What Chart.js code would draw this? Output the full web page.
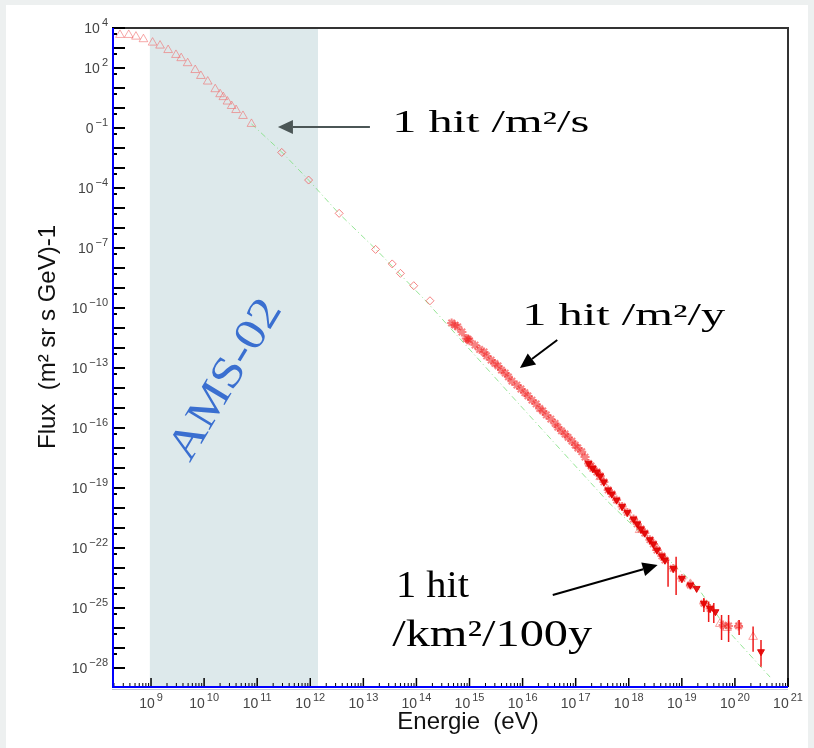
<!DOCTYPE html>
<html>
<head>
<meta charset="utf-8">
<script src="https://cdn.jsdelivr.net/npm/chart.js@4.4.1/dist/chart.umd.min.js"></script>
<style>
  html, body { margin: 0; padding: 0; background: #edf0f0; }
  canvas { display: block; }
</style>
</head>
<body>
<canvas id="myChart" width="814" height="748"></canvas>
<script>
(function () {
  "use strict";

  // values: energy in eV, flux in (m2 sr s GeV)^-1
  var lowE = [2.6e8, 3.8e8, 5.2e8, 7.2e8, 1.07e9, 1.48e9, 2.1e9, 2.95e9, 3.7e9, 4.9e9, 6.8e9,
    8.7e9, 1.17e10, 1.62e10, 2.0e10, 2.3e10, 2.75e10, 3.3e10, 4.0e10, 5.4e10, 7.8e10];
  var lowFlux = [4.5e3, 4.5e3, 3.7e3, 2.75e3, 1.86e3, 1.32e3, 7.9e2, 4.5e2, 3.1e2, 1.74e2, 79,
    40, 21, 8.7, 4.9, 3.5, 2.1, 1.26, 0.79, 0.4, 0.16];

  var diamondE = [2.9e11, 9.3e11, 3.5e12, 1.7e13, 3.5e13, 5.0e13, 8.9e13, 1.8e14];
  var diamondFlux = [6.0e-3, 2.5e-4, 5.4e-6, 8.5e-8, 1.6e-8, 5.4e-9, 1.3e-9, 2.3e-10];

  var starE = [4.6e14, 5.3e14, 6.0e14, 7.2e14, 8.7e14, 9.4e14, 1.0e15, 1.27e15, 1.55e15, 1.88e15,
    2.1e15, 2.55e15, 3.0e15, 3.45e15, 4.0e15, 4.7e15, 5.4e15, 6.3e15, 7.8e15, 9.3e15,
    1.1e16, 1.26e16, 1.5e16, 1.8e16, 2.1e16, 2.4e16, 2.8e16, 3.4e16, 4.1e16, 4.6e16,
    5.4e16, 6.3e16, 7.2e16, 8.5e16, 9.8e16, 1.1e17, 1.3e17, 1.5e17, 1.75e17, 1.95e17,
    2.1e17, 2.5e17, 2.9e17, 3.4e17, 4.1e17, 4.8e17, 5.9e17, 7.5e17, 9.4e17, 1.23e18,
    1.45e18, 1.7e18, 2.0e18, 2.5e18, 2.9e18, 3.4e18, 4.2e18, 4.8e18, 6.9e18, 1.0e19,
    1.45e19, 2.6e19, 3.4e19, 6.0e19, 7.6e19, 1.17e20];
  var starFlux = [1.8e-11, 1.4e-11, 1.15e-11, 6.3e-12, 3.0e-12, 2.8e-12, 2.3e-12, 1.4e-12, 8.5e-13, 6.3e-13,
    4.0e-13, 2.5e-13, 1.7e-13, 1.26e-13, 7.9e-14, 5.6e-14, 3.6e-14, 2.2e-14, 1.4e-14, 8.9e-15,
    5.8e-15, 4.0e-15, 2.5e-15, 1.6e-15, 9.5e-16, 7.1e-16, 4.5e-16, 2.8e-16, 1.7e-16, 1.1e-16,
    7.2e-17, 5.0e-17, 3.4e-17, 2.2e-17, 1.4e-17, 1.0e-17, 6.5e-18, 3.5e-18, 1.7e-18, 1.26e-18,
    9.5e-19, 6.3e-19, 4.0e-19, 2.0e-19, 8.0e-20, 5.0e-20, 2.5e-20, 1.2e-20, 6.0e-21, 2.8e-21,
    1.6e-21, 9.0e-22, 5.6e-22, 2.6e-22, 1.6e-22, 7.9e-23, 4.0e-23, 2.5e-23, 9.5e-24, 3.0e-24,
    1.4e-24, 1.7e-25, 9.5e-26, 1.4e-26, 1.26e-26, 1.26e-26];

  var downE = [1.75e17, 2.1e17, 2.5e17, 2.9e17, 3.4e17, 4.1e17, 4.8e17, 5.9e17, 7.5e17, 9.4e17,
    1.23e18, 1.45e18, 1.7e18, 2.0e18, 2.5e18, 2.9e18, 3.4e18, 4.2e18, 4.8e18, 6.9e18,
    1.0e19, 1.45e19, 1.9e19, 2.6e19, 3.4e19, 4.3e19, 3.1e20];
  var downFlux = [1.7e-18, 9.5e-19, 6.3e-19, 4.0e-19, 2.0e-19, 8.0e-20, 5.0e-20, 2.5e-20, 1.2e-20, 6.0e-21,
    2.8e-21, 1.6e-21, 9.0e-22, 5.6e-22, 2.6e-22, 1.6e-22, 7.9e-23, 4.0e-23, 2.5e-23, 9.5e-24,
    3.0e-24, 1.4e-24, 9.5e-25, 1.7e-25, 9.5e-26, 6.5e-26, 6.5e-28];

  var upE = [2.9e17, 1.6e18, 3.4e18, 1.45e19, 5.2e19, 7.1e19, 1.17e20, 2.2e20];
  var upFlux = [3.5e-19, 7.9e-22, 1.0e-22, 1.6e-24, 1.6e-26, 1.0e-26, 1.4e-26, 3.6e-27];

  var errE = [5.5e18, 7.8e18, 2.6e19, 3.2e19, 4.0e19, 5.6e19, 7.6e19, 1.2e20, 2.2e20, 3.1e20];
  var errHigh = [2.5e-23, 3.6e-23, 3.2e-25, 2.1e-25, 1.8e-25, 4.5e-26, 4.5e-26, 2.5e-26, 1.2e-26, 2.5e-27];
  var errLow = [1.15e-24, 4.5e-25, 6.3e-26, 2.0e-26, 1.8e-26, 2.5e-27, 2.0e-27, 4.5e-27, 6.5e-28, 1.15e-28];

  var fitE = [7.8e10, 2.9e11, 9.3e11, 3.4e12, 1.7e13, 1.45e14, 8.9e15, 4.1e17, 1.95e19, 8.1e19, 4.6e20];
  var fitFlux = [0.16, 6.3e-3, 2.5e-4, 5.6e-6, 8.9e-8, 2.5e-10, 1.4e-15, 2.0e-20, 1.1e-24, 5.6e-27, 3.5e-29];

  var amsBand = [9.5e8, 1.4e12];

  // tick labels
  var xTickExp = ["9", "10", "11", "12", "13", "14", "15", "16", "17", "18", "19", "20", "21"];
  var yTickExp = ["4", "2", "−1", "−4", "−7", "−10", "−13", "−16", "−19", "−22", "−25", "−28"];
  var yTickBase = ["10", "10", "0", "10", "10", "10", "10", "10", "10", "10", "10", "10"];

  // notes: text, anchor energy, anchor flux
  var noteText = ["1 hit /m²/s", "1 hit /m²/y", "1 hit", "/km²/100y"];
  var noteE = [3.5e13, 9.8e15, 4.1e13, 3.5e13];
  var noteFlux = [6.3e-2, 1.4e-11, 3.7e-25, 1.26e-27];
  var noteWidth = [197, 203, 73, 200];

  // arrows: tail -> tip
  var arrowFrom = [[1.33e13, 0.112], [4.5e16, 2.5e-12], [3.7e16, 4.5e-25]];
  var arrowTo = [[2.46e11, 0.112], [8.9e15, 1.0e-13], [3.5e18, 1.4e-23]];
  var arrowColor = ["#4b5656", "#000", "#000"];

  function pts(xs, ys) {
    return xs.map(function (x, i) { return { x: x, y: ys[i] }; });
  }

  var errPts = [];
  for (var i = 0; i < errE.length; i++) {
    errPts.push({ x: errE[i], y: errLow[i] }, { x: errE[i], y: errHigh[i] }, { x: errE[i], y: null });
  }

  function fitText(ctx, text, x, y, width) {
    var w = ctx.measureText(text).width;
    ctx.save();
    ctx.translate(x, y);
    ctx.scale(width / w, 1);
    ctx.fillText(text, 0, 0);
    ctx.restore();
  }

  function arrow(ctx, x0, y0, x1, y1, color) {
    var ang = Math.atan2(y1 - y0, x1 - x0);
    var head = 15, half = 7;
    var bx = x1 - head * Math.cos(ang), by = y1 - head * Math.sin(ang);
    ctx.strokeStyle = color;
    ctx.fillStyle = color;
    ctx.lineWidth = 2;
    ctx.beginPath();
    ctx.moveTo(x0, y0);
    ctx.lineTo(bx, by);
    ctx.stroke();
    ctx.beginPath();
    ctx.moveTo(x1, y1);
    ctx.lineTo(bx + half * Math.sin(ang), by - half * Math.cos(ang));
    ctx.lineTo(bx - half * Math.sin(ang), by + half * Math.cos(ang));
    ctx.closePath();
    ctx.fill();
  }

  function powLabel(ctx, base, exp, x, y, centered) {
    ctx.font = "14px 'Liberation Sans', Arial, sans-serif";
    var wb = ctx.measureText(base).width;
    ctx.font = "11px 'Liberation Sans', Arial, sans-serif";
    var we = ctx.measureText(exp).width;
    var left = centered ? x - (wb + we + 2) / 2 : x - wb - we - 2;
    ctx.font = "14px 'Liberation Sans', Arial, sans-serif";
    ctx.fillText(base, left, y);
    ctx.font = "11px 'Liberation Sans', Arial, sans-serif";
    ctx.fillText(exp, left + wb + 2, y - 7);
  }

  var decor = {
    id: "decor",
    beforeDraw: function (chart) {
      var ctx = chart.ctx, a = chart.chartArea, xs = chart.scales.x;
      ctx.save();
      ctx.fillStyle = "#edf0f0";
      ctx.fillRect(0, 0, chart.width, chart.height);
      ctx.fillStyle = "#ffffff";
      ctx.fillRect(6, 5, 802, chart.height - 5);
      var x0 = xs.getPixelForValue(amsBand[0]);
      var x1 = xs.getPixelForValue(amsBand[1]);
      ctx.fillStyle = "#dde9eb";
      ctx.fillRect(x0, a.top, x1 - x0, a.bottom - a.top);
      // AMS-02 label
      ctx.translate(xs.getPixelForValue(2.6e10), chart.scales.y.getPixelForValue(2.5e-14));
      ctx.rotate(-59 * Math.PI / 180);
      ctx.font = "44px 'Liberation Serif', 'Times New Roman', serif";
      ctx.fillStyle = "#3a6fd0";
      ctx.textAlign = "left";
      ctx.textBaseline = "middle";
      fitText(ctx, "AMS-02", -90, 0, 180);
      ctx.restore();
    },
    afterDatasetsDraw: function (chart) {
      var ctx = chart.ctx, a = chart.chartArea, xs = chart.scales.x, ys = chart.scales.y;
      var e, m, p;
      ctx.save();
      // frame
      ctx.strokeStyle = "#333";
      ctx.lineWidth = 2;
      ctx.beginPath();
      ctx.moveTo(a.left, a.top);
      ctx.lineTo(a.right, a.top);
      ctx.lineTo(a.right, a.bottom);
      ctx.stroke();
      ctx.strokeStyle = "#c4c4d8";
      ctx.lineWidth = 1;
      ctx.beginPath();
      ctx.moveTo(a.left, a.bottom + 2.5);
      ctx.lineTo(a.right, a.bottom + 2.5);
      ctx.stroke();
      // ticks
      ctx.strokeStyle = "#000";
      for (e = -28; e <= 4; e++) {
        p = ys.getPixelForValue(Math.pow(10, e));
        ctx.lineWidth = 2;
        ctx.beginPath(); ctx.moveTo(a.left, p); ctx.lineTo(a.left + 13, p); ctx.stroke();
        if (e < 4) {
          p = ys.getPixelForValue(5 * Math.pow(10, e));
          ctx.beginPath(); ctx.moveTo(a.left, p); ctx.lineTo(a.left + 5, p); ctx.stroke();
        }
      }
      for (e = 8; e <= 21; e++) {
        for (m = 1; m <= 9; m++) {
          var v = m * Math.pow(10, e);
          if (v < xs.min || v > xs.max) continue;
          p = xs.getPixelForValue(v);
          ctx.lineWidth = m === 1 ? 1.5 : 1;
          ctx.beginPath(); ctx.moveTo(p, a.bottom); ctx.lineTo(p, a.bottom - (m === 1 ? 9 : 4)); ctx.stroke();
        }
      }
      // axis lines
      ctx.strokeStyle = "#0000ff";
      ctx.lineWidth = 2;
      ctx.beginPath();
      ctx.moveTo(a.left + 1, a.top);
      ctx.lineTo(a.left + 1, a.bottom);
      ctx.lineTo(a.right, a.bottom);
      ctx.stroke();
      // tick labels
      ctx.fillStyle = "#444";
      ctx.textAlign = "left";
      ctx.textBaseline = "alphabetic";
      xTickExp.forEach(function (ex) {
        powLabel(ctx, "10", ex, xs.getPixelForValue(Math.pow(10, Number(ex))), a.bottom + 21, true);
      });
      yTickExp.forEach(function (ex, i) {
        var val = Math.pow(10, Number(ex.replace("−", "-")));
        powLabel(ctx, yTickBase[i], ex, a.left - 4, ys.getPixelForValue(val) + 5, false);
      });
      // axis titles
      ctx.fillStyle = "#111";
      ctx.font = "24px 'Liberation Sans', Arial, sans-serif";
      ctx.textAlign = "center";
      ctx.fillText("Energie  (eV)", 468, 729);
      ctx.save();
      ctx.translate(55, 337);
      ctx.rotate(-Math.PI / 2);
      ctx.font = "24px 'Liberation Sans', Arial, sans-serif";
      ctx.fillText("Flux  (m² sr s GeV)-1", 0, 0);
      ctx.restore();
      // notes and arrows
      ctx.fillStyle = "#000";
      ctx.textAlign = "left";
      noteText.forEach(function (t, i) {
        ctx.font = (i < 2 ? "31px" : "37px") + " 'Liberation Serif', 'Times New Roman', serif";
        fitText(ctx, t, xs.getPixelForValue(noteE[i]), ys.getPixelForValue(noteFlux[i]), noteWidth[i]);
      });
      arrowFrom.forEach(function (f, i) {
        arrow(ctx, xs.getPixelForValue(f[0]), ys.getPixelForValue(f[1]),
          xs.getPixelForValue(arrowTo[i][0]), ys.getPixelForValue(arrowTo[i][1]), arrowColor[i]);
      });
      ctx.restore();
    }
  };

  var ctx = document.getElementById("myChart");
  var myChart = new Chart(ctx, {
    type: "scatter",
    data: {
      datasets: [
        {
          label: "error bars",
          data: errPts,
          showLine: true,
          spanGaps: false,
          pointRadius: 0,
          borderColor: "rgba(235,0,0,0.9)",
          borderWidth: 1.5
        },
        {
          label: "down",
          data: pts(downE, downFlux),
          pointStyle: "triangle",
          rotation: 180,
          pointRadius: 4,
          backgroundColor: "rgba(225,0,0,0.9)",
          borderColor: "rgba(225,0,0,0.9)",
          borderWidth: 1
        },
        {
          label: "stars",
          data: pts(starE, starFlux),
          pointStyle: "star",
          pointRadius: 4.5,
          borderColor: "rgba(240,30,30,0.55)",
          borderWidth: 2
        },
        {
          label: "up",
          data: pts(upE, upFlux),
          pointStyle: "triangle",
          pointRadius: 5,
          backgroundColor: "transparent",
          borderColor: "rgba(245,120,120,0.7)",
          borderWidth: 1
        },
        {
          label: "diamonds",
          data: pts(diamondE, diamondFlux),
          pointStyle: "rectRot",
          pointRadius: 4,
          backgroundColor: "transparent",
          borderColor: "rgba(240,90,90,0.75)",
          borderWidth: 1
        },
        {
          label: "low energy",
          data: pts(lowE, lowFlux),
          pointStyle: "triangle",
          pointRadius: 5,
          backgroundColor: "transparent",
          borderColor: "rgba(240,110,110,0.6)",
          borderWidth: 1
        },
        {
          label: "fit",
          data: pts(fitE, fitFlux),
          showLine: true,
          pointRadius: 0,
          borderColor: "rgba(130,225,130,0.85)",
          borderWidth: 1,
          borderDash: [6, 3, 1, 3]
        }
      ]
    },
    options: {
      responsive: false,
      animation: false,
      devicePixelRatio: 1,
      layout: { padding: { left: 112, top: 28, right: 26, bottom: 61 } },
      plugins: { legend: { display: false }, tooltip: { enabled: false } },
      scales: {
        x: { type: "logarithmic", display: false, min: 1.84e8, max: 1e21 },
        y: { type: "logarithmic", display: false, min: 1.12e-29, max: 1e4 }
      }
    },
    plugins: [decor]
  });
})();
</script>
</body>
</html>
